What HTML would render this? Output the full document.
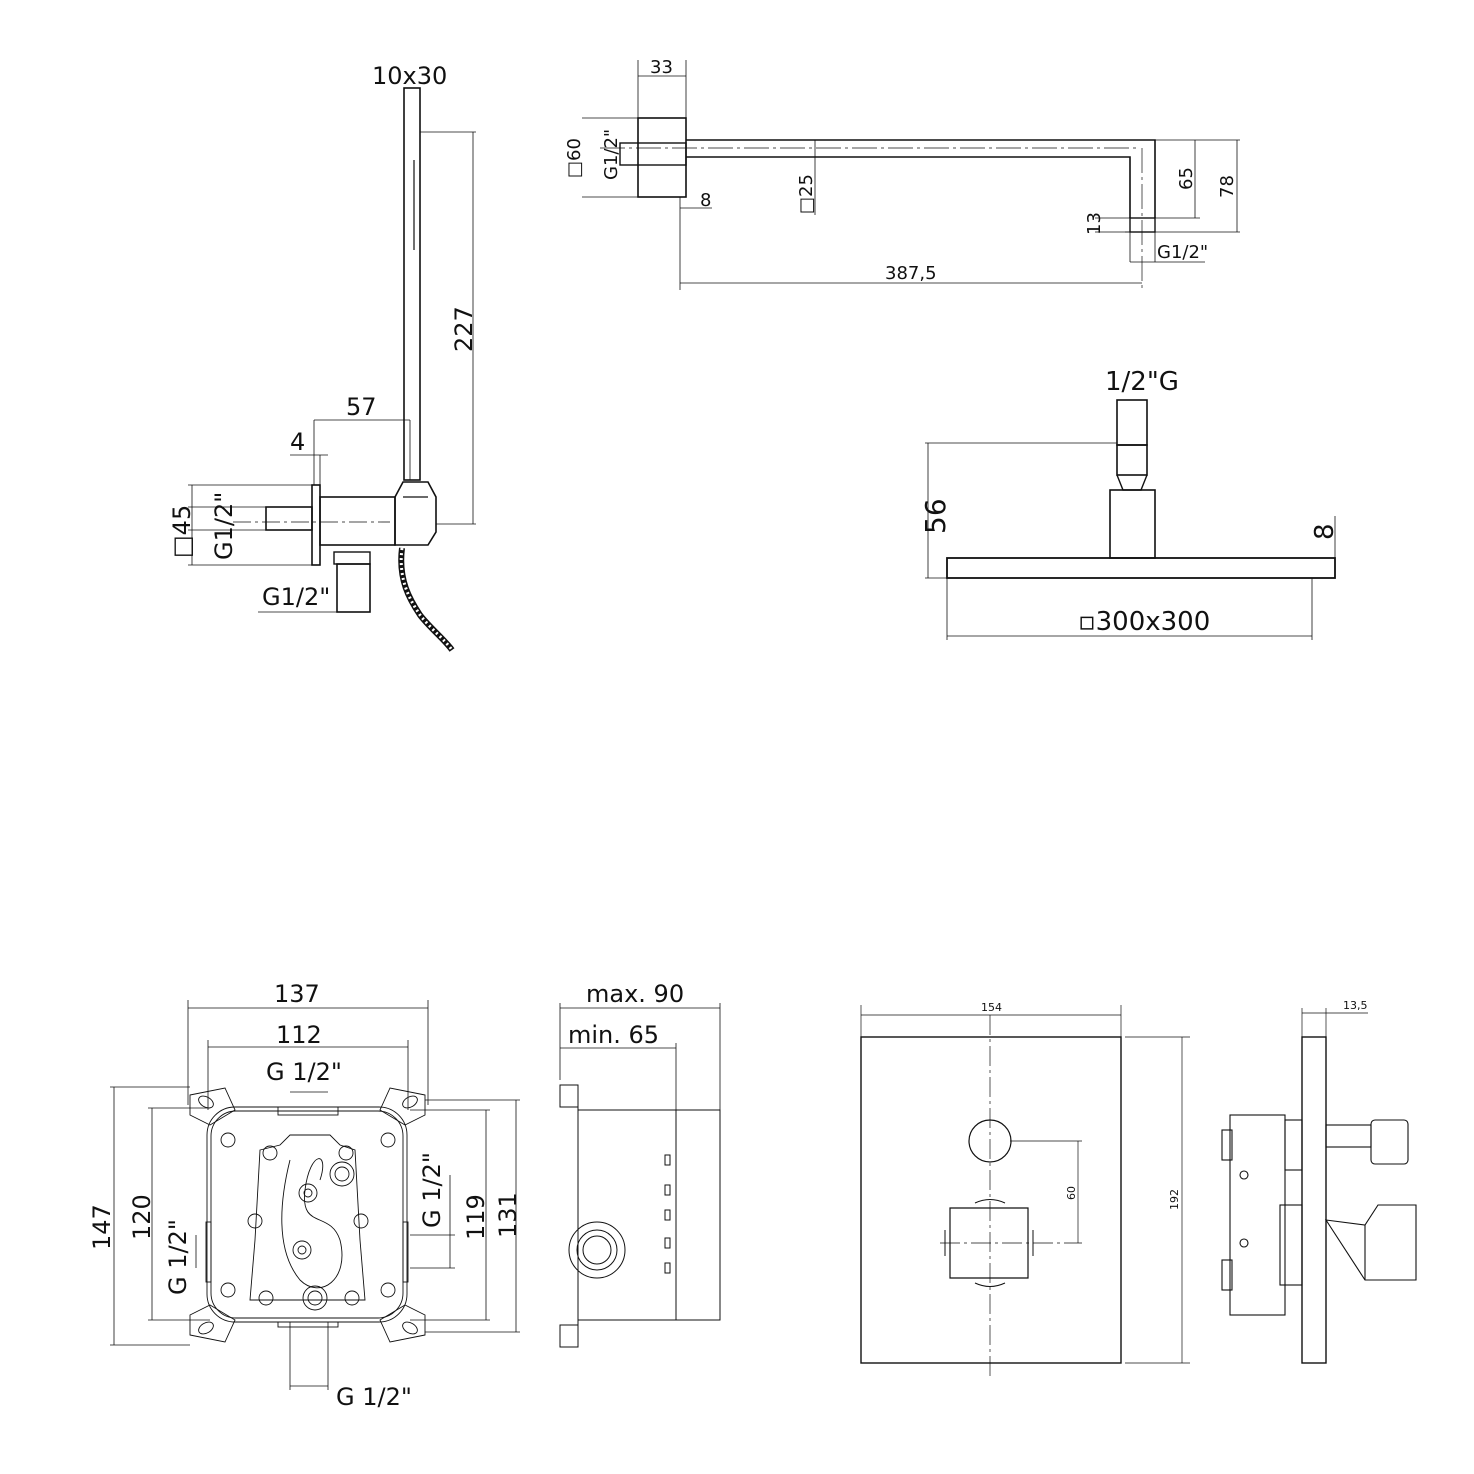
<!DOCTYPE html>
<html><head><meta charset="utf-8"><style>
html,body{margin:0;padding:0;background:#fff}
svg{display:block}
text{font-family:"DejaVu Sans","Liberation Sans",sans-serif;fill:#111}
</style></head><body>
<svg width="1474" height="1474" viewBox="0 0 1474 1474" xmlns="http://www.w3.org/2000/svg">
<g fill="none" stroke="#111" stroke-width="1.2">
<!-- ===== Hand shower (top-left) ===== -->
<rect x="404" y="88" width="16" height="392" stroke-width="1.6"/>
<line x1="414" y1="160" x2="414" y2="250"/>
<line x1="420" y1="132" x2="476" y2="132" stroke-width="0.8"/>
<line x1="436" y1="524" x2="476" y2="524" stroke-width="0.8"/>
<line x1="473" y1="132" x2="473" y2="524" stroke-width="0.8"/>
<line x1="314" y1="420" x2="410" y2="420" stroke-width="0.8"/>
<line x1="314" y1="420" x2="314" y2="485" stroke-width="0.8"/>
<line x1="410" y1="420" x2="410" y2="480" stroke-width="0.8"/>
<line x1="290" y1="455" x2="328" y2="455" stroke-width="0.8"/>
<line x1="320" y1="455" x2="320" y2="485" stroke-width="0.8"/>
<rect x="312" y="485" width="8" height="80" stroke-width="1.6"/>
<rect x="266" y="507" width="46" height="23" stroke-width="1.6"/>
<rect x="320" y="497" width="75" height="48" stroke-width="1.6"/>
<path d="M395 497 L403 482 L428 482 L436 497 L436 532 L428 545 L395 545 Z" stroke-width="1.6"/>
<line x1="403" y1="497" x2="428" y2="497"/>
<line x1="233" y1="522" x2="390" y2="522" stroke-dasharray="18 4 3 4" stroke-width="0.8"/>
<line x1="188" y1="507" x2="266" y2="507" stroke-width="0.8"/>
<line x1="188" y1="530" x2="266" y2="530" stroke-width="0.8"/>
<line x1="192" y1="485" x2="192" y2="565" stroke-width="0.8"/>
<line x1="188" y1="485" x2="312" y2="485" stroke-width="0.8"/>
<line x1="188" y1="565" x2="312" y2="565" stroke-width="0.8"/>
<rect x="334" y="552" width="36" height="12" stroke-width="1.4"/>
<rect x="337" y="564" width="33" height="48" stroke-width="1.6"/>
<line x1="258" y1="612" x2="370" y2="612" stroke-width="0.8"/>
<path d="M402 548 C398 580 410 600 420 615 C430 628 445 640 452 650" stroke-width="6"/>
<path d="M402 548 C398 580 410 600 420 615 C430 628 445 640 452 650" stroke="#fff" stroke-width="3" stroke-dasharray="2 3"/>
<!-- ===== Shower arm (top-right) ===== -->
<rect x="638" y="118" width="48" height="79" stroke-width="1.6"/>
<line x1="638" y1="60" x2="638" y2="118" stroke-width="0.8"/>
<line x1="686" y1="60" x2="686" y2="118" stroke-width="0.8"/>
<line x1="638" y1="76" x2="686" y2="76" stroke-width="0.8"/>
<rect x="620" y="143" width="66" height="22" stroke-width="1.4"/>
<line x1="582" y1="118" x2="638" y2="118" stroke-width="0.8"/>
<line x1="582" y1="197" x2="638" y2="197" stroke-width="0.8"/>
<path d="M686 140 L1155 140 L1155 218 M686 157 L1130 157 L1130 218" stroke-width="1.6"/>
<rect x="1130" y="218" width="25" height="14" stroke-width="1.4"/>
<line x1="1125" y1="232" x2="1160" y2="232" stroke-width="0.8"/>
<line x1="1130" y1="232" x2="1130" y2="262" stroke-width="0.8"/>
<line x1="1155" y1="232" x2="1155" y2="262" stroke-width="0.8"/>
<line x1="1130" y1="262" x2="1205" y2="262" stroke-width="0.8"/>
<line x1="600" y1="148" x2="1140" y2="148" stroke-dasharray="25 4 3 4" stroke-width="0.7"/>
<line x1="1142" y1="148" x2="1142" y2="290" stroke-dasharray="25 4 3 4" stroke-width="0.7"/>
<line x1="815" y1="140" x2="815" y2="215" stroke-width="0.8"/>
<line x1="680" y1="197" x2="680" y2="290" stroke-width="0.8"/>
<line x1="680" y1="208" x2="712" y2="208" stroke-width="0.8"/>
<line x1="680" y1="283" x2="1142" y2="283" stroke-width="0.8"/>
<line x1="1155" y1="140" x2="1240" y2="140" stroke-width="0.8"/>
<line x1="1155" y1="218" x2="1200" y2="218" stroke-width="0.8"/>
<line x1="1160" y1="232" x2="1240" y2="232" stroke-width="0.8"/>
<line x1="1195" y1="140" x2="1195" y2="218" stroke-width="0.8"/>
<line x1="1237" y1="140" x2="1237" y2="232" stroke-width="0.8"/>
<line x1="1095" y1="218" x2="1130" y2="218" stroke-width="0.8"/>
<line x1="1095" y1="232" x2="1130" y2="232" stroke-width="0.8"/>
<!-- ===== Rain head ===== -->
<rect x="1117" y="400" width="30" height="45" stroke-width="1.6"/>
<rect x="1117" y="445" width="30" height="30" stroke-width="1.6"/>
<path d="M1117 475 L1123 490 L1141 490 L1147 475" stroke-width="1.4"/>
<rect x="1110" y="490" width="45" height="68" stroke-width="1.6"/>
<rect x="947" y="558" width="388" height="20" stroke-width="1.8"/>
<line x1="925" y1="443" x2="1117" y2="443" stroke-width="0.8"/>
<line x1="925" y1="578" x2="947" y2="578" stroke-width="0.8"/>
<line x1="928" y1="443" x2="928" y2="578" stroke-width="0.8"/>
<line x1="1335" y1="516" x2="1335" y2="558" stroke-width="0.8"/>
<line x1="947" y1="578" x2="947" y2="640" stroke-width="0.8"/>
<line x1="1312" y1="578" x2="1312" y2="640" stroke-width="0.8"/>
<line x1="947" y1="636" x2="1312" y2="636" stroke-width="0.8"/>
<!-- ===== Box top view (bottom-left) ===== -->
<g stroke-width="0.9">
<rect x="207" y="1107" width="200" height="215" rx="28"/>
<rect x="211" y="1111" width="192" height="207" rx="25"/>
<path d="M190 1095 L225 1088 L235 1110 L210 1125 L190 1115 Z"/>
<path d="M425 1095 L390 1088 L380 1110 L405 1125 L425 1115 Z"/>
<path d="M190 1335 L225 1342 L235 1320 L210 1305 L190 1315 Z"/>
<path d="M425 1335 L390 1342 L380 1320 L405 1305 L425 1315 Z"/>
<ellipse cx="206" cy="1102" rx="8" ry="5" transform="rotate(30 206 1102)"/>
<ellipse cx="410" cy="1102" rx="8" ry="5" transform="rotate(-30 410 1102)"/>
<ellipse cx="206" cy="1328" rx="8" ry="5" transform="rotate(-30 206 1328)"/>
<ellipse cx="410" cy="1328" rx="8" ry="5" transform="rotate(30 410 1328)"/>
<rect x="278" y="1107" width="60" height="8"/>
<rect x="278" y="1322" width="60" height="5"/>
<rect x="206" y="1222" width="5" height="60"/>
<rect x="403" y="1222" width="5" height="60"/>
<path d="M260 1150 L280 1145 L290 1135 L330 1135 L340 1145 L355 1150 L360 1240 L365 1300 L250 1300 L255 1240 Z"/>
<path d="M290 1160 C280 1200 275 1250 300 1280 C320 1300 350 1280 340 1240 C330 1210 300 1230 305 1190 C310 1150 330 1150 320 1180"/>
<circle cx="270" cy="1153" r="7"/><circle cx="346" cy="1153" r="7"/>
<circle cx="342" cy="1174" r="12"/><circle cx="342" cy="1174" r="7"/>
<circle cx="308" cy="1193" r="9"/><circle cx="308" cy="1193" r="4"/>
<circle cx="255" cy="1221" r="7"/><circle cx="361" cy="1221" r="7"/>
<circle cx="302" cy="1250" r="9"/><circle cx="302" cy="1250" r="4"/>
<circle cx="266" cy="1298" r="7"/><circle cx="352" cy="1298" r="7"/>
<circle cx="315" cy="1298" r="12"/><circle cx="315" cy="1298" r="7"/>
<circle cx="228" cy="1140" r="7"/><circle cx="388" cy="1140" r="7"/>
<circle cx="228" cy="1290" r="7"/><circle cx="388" cy="1290" r="7"/>
</g>
<g stroke-width="0.8">
<line x1="188" y1="1000" x2="188" y2="1105"/>
<line x1="428" y1="1000" x2="428" y2="1105"/>
<line x1="188" y1="1008" x2="428" y2="1008"/>
<line x1="208" y1="1040" x2="208" y2="1110"/>
<line x1="408" y1="1040" x2="408" y2="1110"/>
<line x1="208" y1="1047" x2="408" y2="1047"/>
<line x1="290" y1="1092" x2="328" y2="1092"/>
<line x1="110" y1="1087" x2="190" y2="1087"/>
<line x1="110" y1="1345" x2="190" y2="1345"/>
<line x1="114" y1="1087" x2="114" y2="1345"/>
<line x1="148" y1="1108" x2="210" y2="1108"/>
<line x1="148" y1="1320" x2="210" y2="1320"/>
<line x1="152" y1="1108" x2="152" y2="1320"/>
<line x1="196" y1="1235" x2="196" y2="1268"/>
<line x1="290" y1="1322" x2="290" y2="1390"/>
<line x1="328" y1="1322" x2="328" y2="1390"/>
<line x1="290" y1="1386" x2="328" y2="1386"/>
<line x1="425" y1="1100" x2="520" y2="1100"/>
<line x1="425" y1="1332" x2="520" y2="1332"/>
<line x1="516" y1="1100" x2="516" y2="1332"/>
<line x1="410" y1="1110" x2="490" y2="1110"/>
<line x1="410" y1="1320" x2="490" y2="1320"/>
<line x1="486" y1="1110" x2="486" y2="1320"/>
<line x1="410" y1="1235" x2="455" y2="1235"/>
<line x1="410" y1="1268" x2="455" y2="1268"/>
<line x1="450" y1="1175" x2="450" y2="1268"/>
</g>
<!-- ===== Box side view ===== -->
<g stroke-width="1">
<rect x="578" y="1110" width="98" height="210"/>
<rect x="676" y="1110" width="44" height="210"/>
<rect x="560" y="1085" width="18" height="22"/>
<rect x="560" y="1325" width="18" height="22"/>
<line x1="578" y1="1085" x2="578" y2="1347"/>
<circle cx="597" cy="1250" r="28"/><circle cx="597" cy="1250" r="20"/><circle cx="597" cy="1250" r="14"/>
<rect x="665" y="1155" width="5" height="10"/><rect x="665" y="1185" width="5" height="10"/>
<rect x="665" y="1210" width="5" height="10"/><rect x="665" y="1238" width="5" height="10"/>
<rect x="665" y="1263" width="5" height="10"/>
</g>
<g stroke-width="0.8">
<line x1="560" y1="1003" x2="560" y2="1080"/>
<line x1="720" y1="1003" x2="720" y2="1110"/>
<line x1="560" y1="1008" x2="720" y2="1008"/>
<line x1="560" y1="1048" x2="676" y2="1048"/>
<line x1="676" y1="1043" x2="676" y2="1110"/>
</g>
<!-- ===== Faceplate ===== -->
<rect x="861" y="1037" width="260" height="326" stroke-width="1.4"/>
<circle cx="990" cy="1141" r="21" stroke-width="1.2"/>
<path d="M950 1208 L1028 1208 L1028 1278 L950 1278 Z" stroke-width="1.2"/>
<path d="M975 1203 Q990 1196 1005 1203 M975 1283 Q990 1290 1005 1283 M1033 1230 L1033 1256 M945 1230 L945 1256" stroke-width="1"/>
<line x1="990" y1="1015" x2="990" y2="1378" stroke-dasharray="20 4 3 4" stroke-width="0.7"/>
<line x1="940" y1="1243" x2="1082" y2="1243" stroke-dasharray="20 4 3 4" stroke-width="0.7"/>
<line x1="1010" y1="1141" x2="1082" y2="1141" stroke-width="0.7"/>
<line x1="1078" y1="1141" x2="1078" y2="1243" stroke-width="0.7"/>
<line x1="861" y1="1005" x2="861" y2="1037" stroke-width="0.7"/>
<line x1="1121" y1="1005" x2="1121" y2="1037" stroke-width="0.7"/>
<line x1="861" y1="1015" x2="1121" y2="1015" stroke-width="0.7"/>
<line x1="1125" y1="1037" x2="1190" y2="1037" stroke-width="0.7"/>
<line x1="1125" y1="1363" x2="1190" y2="1363" stroke-width="0.7"/>
<line x1="1182" y1="1037" x2="1182" y2="1363" stroke-width="0.7"/>
<!-- ===== Side view valve ===== -->
<g stroke-width="1.1">
<rect x="1302" y="1037" width="24" height="326" stroke-width="1.4"/>
<rect x="1230" y="1115" width="55" height="200"/>
<rect x="1222" y="1130" width="10" height="30"/><rect x="1222" y="1260" width="10" height="30"/>
<circle cx="1244" cy="1175" r="4"/><circle cx="1244" cy="1243" r="4"/>
<rect x="1280" y="1205" width="22" height="80"/>
<rect x="1285" y="1120" width="17" height="50"/>
<rect x="1326" y="1125" width="45" height="22"/>
<rect x="1371" y="1120" width="37" height="44" rx="4"/>
<path d="M1326 1220 L1365 1225 L1378 1205 L1416 1205 L1416 1280 L1365 1280 Z"/>
<line x1="1365" y1="1225" x2="1365" y2="1280"/>
</g>
<line x1="1302" y1="1008" x2="1302" y2="1037" stroke-width="0.7"/>
<line x1="1326" y1="1008" x2="1326" y2="1037" stroke-width="0.7"/>
<line x1="1302" y1="1013" x2="1368" y2="1013" stroke-width="0.7"/>
</g>
<!-- ===== Text ===== -->
<g font-size="24">
<text x="372" y="84">10x30</text>
<text x="346" y="415">57</text>
<text x="290" y="450">4</text>
<text x="262" y="605">G1/2"</text>
<text transform="translate(472,352) rotate(-90)">227</text>
<text transform="translate(190,558) rotate(-90)">□45</text>
<text transform="translate(232,560) rotate(-90)">G1/2"</text>
<text transform="translate(945,534) rotate(-90)" font-size="28">56</text>
<text transform="translate(1333,540) rotate(-90)" font-size="26">8</text>
<text x="1105" y="390" font-size="26">1/2"G</text>
<text x="1078" y="630" font-size="26">▫300x300</text>
<text x="274" y="1002">137</text>
<text x="276" y="1043">112</text>
<text x="266" y="1080">G 1/2"</text>
<text x="336" y="1405">G 1/2"</text>
<text x="586" y="1002">max. 90</text>
<text x="568" y="1043">min. 65</text>
<text transform="translate(110,1250) rotate(-90)">147</text>
<text transform="translate(150,1240) rotate(-90)">120</text>
<text transform="translate(186,1295) rotate(-90)">G 1/2"</text>
<text transform="translate(440,1228) rotate(-90)">G 1/2"</text>
<text transform="translate(484,1240) rotate(-90)">119</text>
<text transform="translate(516,1238) rotate(-90)">131</text>
</g>
<g font-size="18">
<text x="650" y="73">33</text>
<text x="700" y="206">8</text>
<text x="885" y="279">387,5</text>
<text x="1157" y="258">G1/2"</text>
<text transform="translate(580,178) rotate(-90)">□60</text>
<text transform="translate(617,180) rotate(-90)">G1/2"</text>
<text transform="translate(812,214) rotate(-90)">□25</text>
<text transform="translate(1192,190) rotate(-90)">65</text>
<text transform="translate(1233,198) rotate(-90)">78</text>
<text transform="translate(1100,235) rotate(-90)">13</text>
</g>
<g font-size="11">
<text x="981" y="1011">154</text>
<text x="1343" y="1009">13,5</text>
<text transform="translate(1075,1200) rotate(-90)">60</text>
<text transform="translate(1178,1210) rotate(-90)">192</text>
</g>
</svg>
</body></html>
